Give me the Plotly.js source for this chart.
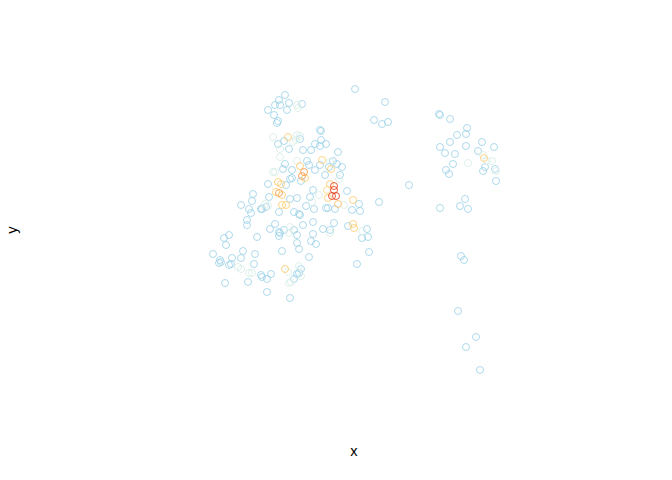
<!DOCTYPE html>
<html>
<head>
<meta charset="utf-8">
<script src="https://cdn.plot.ly/plotly-3.0.1.min.js"></script>
<style>html,body{margin:0;padding:0;background:#fff}#plot{width:672px;height:480px}</style>
</head>
<body>
<div id="plot"></div>
<script>
// point positions (arbitrary units; y grows downward)
var xs = [355,385,285,279,275,280,268,287,289,297,302,298,274,277,278,374,382,388,320,321,273,288,297,293,300,278,284,280,289,280,303,311,315,321,326,320,338,296,300,
285,297,307,322,330,315,300,304,302,305,283,273,275,292,309,329,333,337,342,340,339,325,331,320,278,281,276,279,282,282,286,286,290,292,301,
253,252,241,249,251,261,269,268,279,290,297,310,306,314,294,299,313,319,327,330,334,334,332,336,328,338,344,347,353,359,326,328,335,352,360,379,409,312,268,265,266,262,
247,247,275,270,279,280,279,284,289,290,294,297,303,300,313,313,311,316,323,330,330,334,348,353,354,362,367,362,368,369,357,257,229,224,226,213,220,221,219,229,231,232,241,243,255,254,238,241,249,252,261,262,267,271,248,225,267,282,297,299,309,285,288,299,301,299,297,301,294,291,289,290,
439,440,450,467,466,457,450,440,445,455,466,482,494,478,483,484,492,487,468,453,446,449,485,483,495,496,496,465,460,468,440,461,464,458,476,466,480];
var ys = [89,102,95,100,105,105,110,110,103,105,104,108,115,123,121,120,124,122,130,131,137,137,135,142,139,144,141,149,149,157,150,150,144,140,144,146,152,140,136,
164,161,161,160,162,170,166,172,176,178,169,172,172,170,165,167,161,164,167,175,179,175,169,165,182,184,192,193,195,205,205,185,179,178,181,
194,201,205,209,213,209,197,206,212,199,198,197,206,209,212,214,190,195,190,184,186,190,196,196,198,204,205,191,200,204,208,208,209,210,211,202,185,202,184,204,207,209,
220,225,224,229,232,233,236,230,233,227,230,235,225,215,222,234,241,244,229,230,233,223,226,224,228,231,229,238,237,252,264,237,235,238,245,254,260,262,263,265,264,258,258,251,254,264,267,269,273,273,275,277,279,274,282,283,292,251,243,249,257,269,272,266,269,273,274,276,279,282,283,298,
114,115,119,128,134,135,142,147,153,154,146,142,147,151,155,158,161,161,163,164,170,174,167,171,169,171,181,199,206,209,208,256,260,311,337,347,370];
// local density level of each point (0 = sparse/blue ... 1 = densest/red)
var dens = [0,0,0,0,0,0,0,0,0,0.3,0,0.3,0,0,0,0,0,0,0.05,0.05,0.3,0.6,0.3,0.3,0,0,0,0.3,0,0.3,0,0,0,0,0,0,0,0.3,0.3,
0,0.3,0,0.6,0.3,0,0.6,0.8,0.8,0.6,0,0.3,0.3,0,0,0,0,0,0,0,0.3,0,0.6,0,0.6,0.6,0.6,0.8,0.6,0.6,0.6,0,0,0,0,
0,0,0,0,0,0,0,0.3,0,0,0,0,0,0,0,0,0,0.3,0.55,0.6,1,1,1,1,0.6,0.65,0.3,0,0.6,0,0.05,0.05,0,0,0,0,0,0.3,0,0.3,0,0,
0,0,0,0,0.05,0.05,0,0,0.3,0.3,0,0,0,0,0,0,0,0,0,0,0.3,0,0,0.6,0.6,0.3,0,0,0,0,0,0,0,0,0,0,0.05,0.05,0,0.05,0,0,0,0,0,0,0.3,0.3,0.3,0.3,0,0,0,0,0,0,0,0,0,0,0,0.6,0.3,0.3,0,0,0,0.3,0,0.3,0.3,0,
0.05,0.05,0,0,0,0,0,0,0,0,0,0,0,0,0.3,0.6,0.3,0.3,0.3,0,0,0,0,0,0,0.3,0,0,0,0,0,0,0,0,0,0,0];

// draw sparse points first, dense ones on top
var idx = xs.map(function(_, i){ return i; }).sort(function(a, b){ return dens[a] - dens[b]; });
var px = idx.map(function(i){ return xs[i]; });
var py = idx.map(function(i){ return ys[i]; });
var pc = idx.map(function(i){ return dens[i]; });

var trace = {
  type: 'scatter', mode: 'markers', x: px, y: py,
  hoverinfo: 'x+y',
  marker: {
    symbol: 'circle-open', size: 7, opacity: 0.85,
    color: pc, cmin: 0, cmax: 1,
    colorscale: [[0,'#9fd2e8'],[0.1,'#a9d8ea'],[0.3,'#d9ede8'],[0.5,'#fde29a'],[0.6,'#fdcb70'],[0.8,'#fa9a48'],[1,'#e2401f']],
    showscale: false,
    line: {width: 1}
  }
};

var layout = {
  width: 672, height: 480,
  paper_bgcolor: '#ffffff', plot_bgcolor: '#ffffff',
  margin: {l: 45, r: 9, t: 40, b: 60},
  showlegend: false,
  font: {family: 'Liberation Sans, Arial, sans-serif', size: 12, color: '#000000'},
  xaxis: {range: [45, 663], showgrid: false, zeroline: false, showticklabels: false, ticks: '', showline: false,
          title: {text: 'x', font: {size: 14.6, color: '#000000'}, standoff: 25}},
  yaxis: {range: [420, 40], showgrid: false, zeroline: false, showticklabels: false, ticks: '', showline: false,
          title: {text: 'y', font: {size: 14.6, color: '#000000'}, standoff: 22}}
};

Plotly.newPlot('plot', [trace], layout, {displayModeBar: false});
</script>
</body>
</html>
